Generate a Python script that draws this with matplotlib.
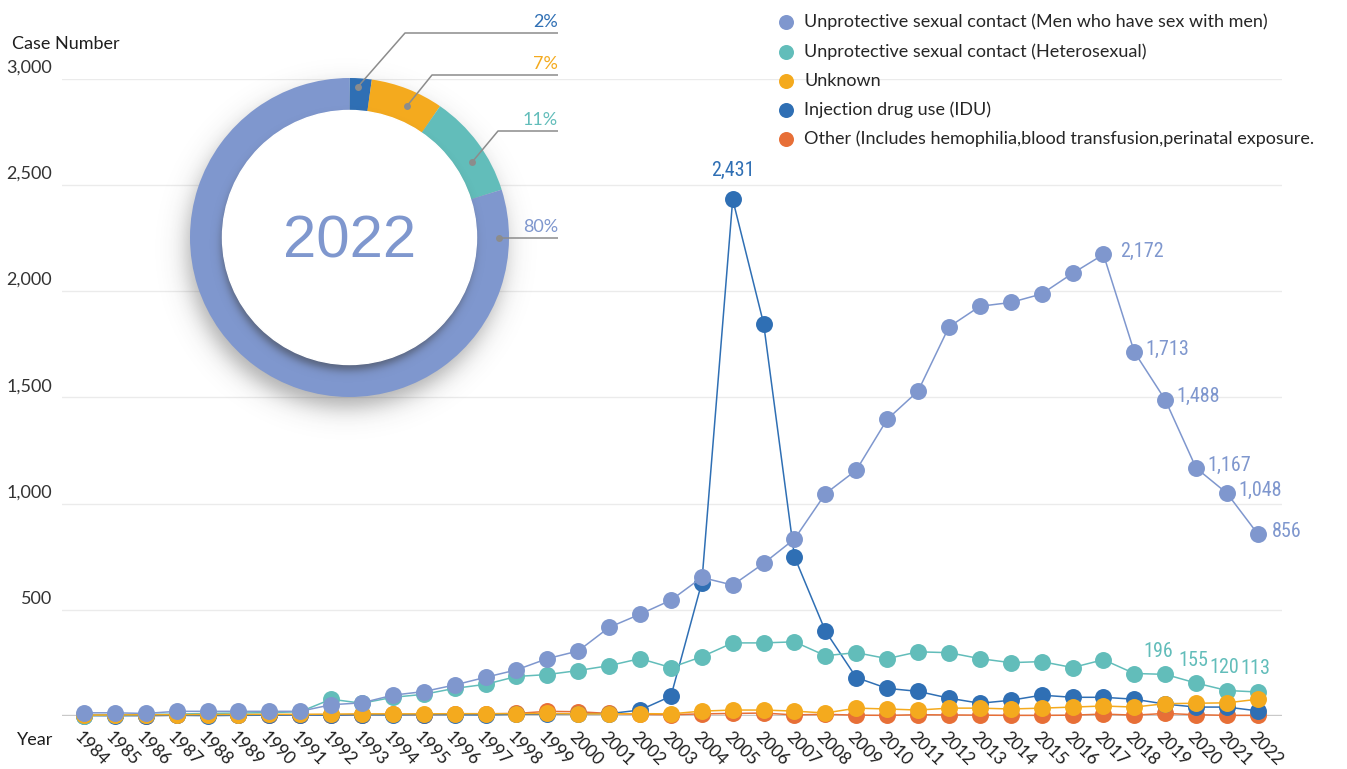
import numpy as np
import matplotlib
matplotlib.use("Agg")
import matplotlib.pyplot as plt
from matplotlib import font_manager
from matplotlib.lines import Line2D
from matplotlib.patches import Circle
from matplotlib.transforms import ScaledTranslation

# ---------------------------------------------------------------- data
years = list(range(1984, 2023))

msm = [15, 15, 12, 22, 22, 22, 22, 22,
       53, 62, 98, 115, 146, 182, 217, 270, 306, 417, 479, 545,
       652, 616, 718, 833, 1046, 1157, 1396, 1529, 1831, 1928, 1946, 1986, 2083,
       2172, 1713, 1488, 1167, 1048, 856]
hetero = [2, 5, 7, 9, 12, 14, 16, 20,
          79, 60, 88, 102, 130, 149, 186, 195, 214, 237, 270, 228,
          279, 344, 344, 349, 284, 298, 270, 302, 298, 270, 251, 256, 228, 265, 200,
          196, 155, 120, 113]
unknown = [4, 5, 6, 6, 7, 7, 8, 8,
           9, 10, 10, 10, 11, 11, 11, 12,
           10, 10, 11, 10,
           23, 28, 28, 23, 14, 37, 33, 28, 37, 37, 33, 37, 42, 47, 42, 58, 60, 62, 79]
idu = [2, 1, 2, 3, 2, 3, 4, 5, 4, 6, 5, 7, 6, 5, 8, 9, 10, 11,
       28, 93, 628, 2431, 1847, 749, 400, 181, 130, 116, 84, 60, 74, 98, 88, 88,
       79, 56, 42, 42, 24]
other = [3, 5, 2, 4, 3, 4, 5, 6,
         5, 7, 8, 6, 9, 10, 12, 22,
         20, 12, 8, 6, 10, 12, 14, 5, 8, 4,
         3, 6, 5, 4, 3, 3, 4, 9, 4, 12, 6, 3, 3]

names = ["Unprotective sexual contact (Men who have sex with men)",
         "Unprotective sexual contact (Heterosexual)",
         "Unknown",
         "Injection drug use (IDU)",
         "Other (Includes hemophilia,blood transfusion,perinatal exposure."]
y_ticks = [500, 1000, 1500, 2000, 2500, 3000]

msm_label_years = [2017, 2018, 2019, 2020, 2021, 2022]
hetero_label_years = [2019, 2020, 2021, 2022]
idu_label_years = [2005]
donut_year = 2022

# ---------------------------------------------------------------- style
C_MSM, C_HET, C_UNK, C_IDU, C_OTH = "#7F97CE", "#62BDBA", "#F4AA1E", "#2F6FB4", "#E76F37"
series = [msm, hetero, unknown, idu, other]
colors = [C_MSM, C_HET, C_UNK, C_IDU, C_OTH]
zorders = [7, 5, 6, 4, 3]

installed = {f.name for f in font_manager.fontManager.ttflist}


def first_font(*cands):
    for c in cands:
        if c in installed:
            return c
    return "DejaVu Sans"


BODY = first_font("Lato", "Open Sans", "Noto Sans")
NARROW = first_font("Roboto Condensed", "Liberation Sans Narrow", "Roboto")
ARIAL = first_font("Liberation Sans", "Roboto")
plt.rcParams["font.family"] = [BODY, "DejaVu Sans"]

W, H, DPI = 1347, 769, 100
fig = plt.figure(figsize=(W / DPI, H / DPI), dpi=DPI)
fig.patch.set_facecolor("white")


def px_rect(left, top, width, height):
    return [left / W, (H - top - height) / H, width / W, height / H]


def shift(dx, dy):
    return ScaledTranslation(dx / DPI, dy / DPI, fig.dpi_scale_trans)


# ---------------------------------------------------------------- line chart
zero_y, px_per_case, y_max = 716, 0.2125, 3000
ax = fig.add_axes(px_rect(62, zero_y - y_max * px_per_case, 1220, y_max * px_per_case))
ax.set_xlim(1983.29, 2022.78)
ax.set_ylim(0, y_max)
for s in ax.spines.values():
    s.set_visible(False)
ax.set_yticks(y_ticks)
ax.set_xticks(years)
ax.tick_params(length=0, labelleft=False, labelbottom=False)
ax.yaxis.grid(True, color="#EBEBEB", lw=1.0)
ax.set_axisbelow(True)
ax.axhline(0, color="#C9C9C9", lw=2.4, zorder=1.5)

for vals, col, z in zip(series, colors, zorders):
    ax.plot(years, vals, color=col, lw=1.1, marker="o", ms=12.2, mew=0,
            clip_on=False, zorder=z)

for v in y_ticks:
    ax.text(0, v, f"{v:,}", transform=ax.get_yaxis_transform() + shift(-10, 11),
            ha="right", va="center", fontsize=13, color="#333333")
for yr in years:
    ax.text(yr, 0, str(yr), transform=ax.get_xaxis_transform() + shift(8, -33),
            rotation=-45, rotation_mode="anchor", ha="center", va="center",
            fontsize=12.5, color="#1E1E1E")

fig.text(17 / W, 1 - 740 / H, "Year", ha="left", va="center", fontsize=13, color="#1E1E1E")
fig.text(12 / W, 1 - 44 / H, "Case Number", ha="left", va="center", fontsize=13, color="#1E1E1E")

# value labels
for yr in idu_label_years:
    v = idu[years.index(yr)]
    ax.annotate(f"{v:,}", (yr, v), xytext=(0, 29), textcoords="offset pixels",
                ha="center", va="center", fontsize=14.5, color=C_IDU, family=NARROW, zorder=9)
msm_dx = [17, 11, 11, 11, 11, 14]
for yr, dx in zip(msm_label_years, msm_dx):
    v = msm[years.index(yr)]
    ax.annotate(f"{v:,}", (yr, v), xytext=(dx, 3), textcoords="offset pixels",
                ha="left", va="center", fontsize=14.5, color=C_MSM, family=NARROW, zorder=9)
het_dx = [-7, -3, -3, -3]
for yr, dx in zip(hetero_label_years, het_dx):
    v = hetero[years.index(yr)]
    ax.annotate(f"{v:,}", (yr, v), xytext=(dx, 23), textcoords="offset pixels",
                ha="center", va="center", fontsize=14.5, color=C_HET, family=NARROW, zorder=9)

# ---------------------------------------------------------------- legend
leg_y = [22, 52, 81, 110, 139]
for name, col, y in zip(names, colors, leg_y):
    fig.add_artist(Line2D([786 / W], [1 - y / H], transform=fig.transFigure, marker="o",
                          ms=10.8, mew=0, color=col, linestyle="none"))
    fig.text(804 / W, 1 - y / H, name, ha="left", va="center", fontsize=13, color="#262626")

# ---------------------------------------------------------------- donut (share in last year)
i_last = years.index(donut_year)
donut_series = [idu, unknown, hetero, msm]
donut_colors = [C_IDU, C_UNK, C_HET, C_MSM]
donut_vals = [s[i_last] for s in donut_series]
shares = [100 * v / sum(donut_vals) for v in donut_vals]

cx, cy, half = 349.5, 237.5, 240
R_out, R_in = 159.5, 126.5
pax = fig.add_axes(px_rect(cx - half, cy - half, 2 * half, 2 * half))
pax.axis("off")

g = np.linspace(-half, half, 2 * half + 1)
X, Y = np.meshgrid(g, g)


def soft_disc(ox, oy, r, soft):
    d = np.hypot(X - ox, Y - oy) - r
    return 0.5 * (1 - np.tanh(d / soft))


def shadow_image(alpha):
    img = np.zeros(X.shape + (4,))
    img[..., :3] = 0.22
    img[..., 3] = alpha
    return img


outer_shadow = 0.42 * soft_disc(-4, -12, R_out - 1, 14)
pax.imshow(shadow_image(outer_shadow), extent=(-half, half, -half, half), origin="lower",
           zorder=0.5, interpolation="bilinear")

pax.pie(donut_vals, colors=donut_colors, radius=R_out, startangle=90, counterclock=False,
        wedgeprops=dict(width=R_out - R_in, linewidth=0))

inner_shadow = 0.55 * soft_disc(-2, -7, R_in, 5) * (np.hypot(X, Y) <= R_out)
pax.imshow(shadow_image(inner_shadow), extent=(-half, half, -half, half), origin="lower",
           zorder=1.5, interpolation="bilinear")
pax.add_patch(Circle((0, 0), R_in + 0.5, color="white", zorder=2))
pax.text(0, -5, str(donut_year), ha="center", va="center", fontsize=43, color=C_MSM,
         family=ARIAL, zorder=3)

# callouts: dot angle / radius, elbow point, horizontal line height
dot_pos = [(86.8, 151), (66.4, 143.5), (31.6, 144), (0.0, 149.5)]
elbows = [(55.5, 204.5), (82.5, 162.5), (148.5, 106.5), None]
line_end = 208.5
for share, col, (ang, rr), elb in zip(shares, donut_colors, dot_pos, elbows):
    dx, dy = rr * np.cos(np.radians(ang)), rr * np.sin(np.radians(ang))
    if elb is None:
        xs, ys = [dx, line_end], [dy, dy]
        ly = dy
    else:
        xs, ys = [dx, elb[0], line_end], [dy, elb[1], elb[1]]
        ly = elb[1]
    pax.plot(xs, ys, color="#8C8C8C", lw=1.1, zorder=4, solid_capstyle="butt")
    pax.plot([dx], [dy], "o", color="#8C8C8C", ms=5, mew=0, zorder=4)
    pax.text(line_end, ly + 11, f"{share:.0f}%", ha="right", va="center", fontsize=13,
             color=col, zorder=4)

pax.set_xlim(-half, half)
pax.set_ylim(-half, half)

fig.savefig("out.png", dpi=DPI, facecolor="white")
